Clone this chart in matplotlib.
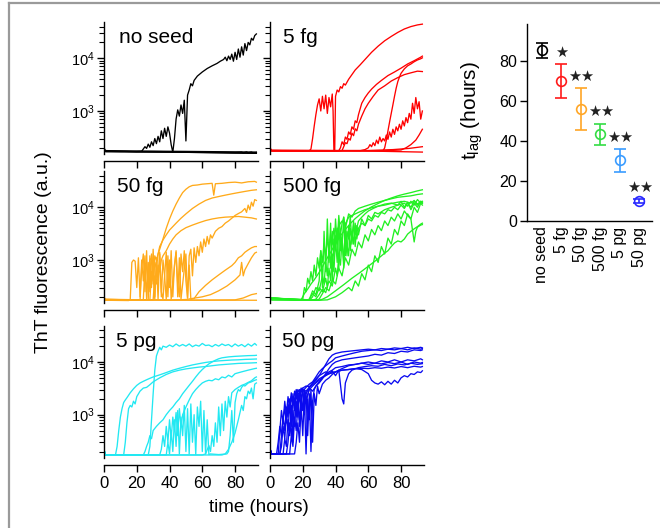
import matplotlib
matplotlib.use('Agg')
import matplotlib.pyplot as plt
from matplotlib.ticker import LogLocator, FixedLocator, FixedFormatter, NullFormatter
from matplotlib.lines import Line2D

plt.rcParams['font.family'] = ['Liberation Sans', 'DejaVu Sans']
plt.rcParams['mathtext.fontset'] = 'custom'
plt.rcParams['mathtext.rm'] = 'Liberation Sans'
plt.rcParams['mathtext.it'] = 'Liberation Sans:italic'

# ---------------- data: ThT traces, (time h, fluorescence a.u.) ----------------
NO_SEED = [
    [(0,180),(2,172),(10,170),(20,170),(23,172),(24,190),(25,210),(26,195),(27,235),(28,205),(29,260),(30,220),
     (31,300),(32,240),(33,330),(34,260),(35,420),(36,300),(37,470),(38,330),(39,500),(40,380),(41,230),(42,165),
     (43,300),(44,700),(45,1050),(46,800),(47,1300),(48,900),(49,1600),(50,270),(51,2000),(52,2500),(53,3300),
     (54,3000),(55,3800),(57,4600),(60,5500),(63,6400),(66,7200),(69,8000),(71,8800),(73,9500),(74,10500),
     (75,9000),(76,11000),(77,9500),(78,12000),(79,8800),(80,13000),(81,9500),(82,15000),(83,10500),(84,16500),
     (85,11500),(86,19000),(87,14000),(88,20000),(89,18000),(90,24000),(91,22000),(92,27000),(93,29000)],
    [(0,200),(1,172),(30,170),(60,166),(80,163),(84,166),(85,160),(87,167),(88,161),(90,166),(91,160),(93,163)],
    [(0,190),(1,168),(40,166),(93,158)],
    [(0,185),(1,175),(50,171),(93,166)],
    [(0,178),(20,168),(60,163),(93,157)],
]

FG5 = [
    [(0,190),(1,178),(10,176),(20,175),(24,176),(25,190),(26,300),(27,520),(28,850),(29,1300),(30,1700),(31,1000),
     (32,1900),(33,1100),(34,2000),(35,900),(36,1800),(37,1200),(38,2100),(38.5,1000),(39,180),(39.5,176),(40,1900),
     (41,2500),(42,2300),(43,2900),(44,2700),(45,3300),(46,3100),(48,4000),(50,4900),(52,6000),(55,7500),(58,9500),
     (62,13000),(66,17000),(70,21500),(74,26000),(78,31000),(82,36000),(86,40000),(90,43000),(93,44500)],
    [(0,185),(1,176),(40,175),(42,177),(43,200),(44,260),(45,230),(46,320),(47,290),(48,400),(49,360),(50,500),
     (51,450),(52,650),(53,600),(54,850),(56,1400),(58,1800),(60,2200),(62,2600),(65,3200),(68,3800),(72,4700),
     (76,5500),(80,6500),(84,7800),(88,9000),(92,10500),(93,11000)],
    [(0,185),(1,176),(42,175),(44,178),(45,210),(46,250),(47,240),(48,300),(49,280),(50,380),(51,340),(52,460),
     (53,420),(54,560),(56,800),(58,1100),(60,1400),(63,1900),(66,2500),(70,3000),(74,3700),(78,4300),(82,4900),
     (86,5300),(90,5700),(93,5600)],
    [(0,185),(1,176),(50,175),(69,176),(70,200),(71,280),(72,420),(73,620),(74,900),(75,1300),(76,1900),(77,2700),
     (78,3600),(79,4400),(80,5200),(82,6300),(84,7200),(86,7800),(88,8600),(90,9300),(92,9800),(93,10200)],
    [(0,185),(1,176),(55,176),(58,185),(60,200),(61,230),(62,210),(63,250),(64,220),(65,280),(66,240),(67,320),
     (68,260),(69,300),(70,270),(71,350),(72,290),(73,400),(74,320),(75,450),(76,360),(77,500),(78,420),(79,560),
     (80,450),(81,650),(82,520),(83,750),(84,600),(85,900),(86,700),(87,1400),(88,900),(89,1800),(90,1100),
     (91,1500),(92,700),(93,1000)],
    [(0,185),(1,176),(70,176),(80,182),(83,200),(86,230),(89,280),(91,350),(93,450)],
    [(0,200),(1,180),(50,176),(93,166)],
    [(0,185),(1,178),(60,178),(75,185),(85,195),(93,210)],
]

FG50 = [
    [(0,185),(1,175),(20,172),(24,174),(25,800),(26,900),(27,300),(28,1000),(29,1100),(30,350),(31,1200),(32,1000),
     (33,1300),(34,1600),(36,2500),(38,4000),(40,6000),(42,8500),(44,11500),(46,15000),(48,19000),(50,22000),
     (52,24500),(54,26000),(57,26500),(60,27500),(63,28000),(66,28500),(67,17000),(68,28000),(72,28500),
     (76,29500),(80,30000),(84,29000),(88,30500),(92,31000),(93,30000)],
    [(0,185),(1,175),(20,172),(28,175),(29,600),(30,400),(31,900),(32,700),(33,1300),(34,1800),(36,2400),(38,3000),
     (40,3700),(42,4300),(44,5000),(47,6200),(50,7500),(54,9500),(58,11500),(62,13500),(66,15000),(70,16000),
     (74,17000),(78,18000),(82,19000),(86,20000),(90,21000),(93,21500)],
    [(0,185),(1,175),(20,172),(30,174),(31,500),(32,350),(33,800),(34,600),(35,1000),(36,1200),(38,1500),(40,2000),
     (42,2500),(44,3000),(47,3600),(50,4100),(54,4600),(58,5100),(62,5600),(66,6000),(70,6300),(74,6500),
     (78,6600),(82,6700),(86,6500),(90,6300),(93,6000)],
    [(0,185),(1,172),(15,170),(16,175),(17,900),(18,1000),(19,950),(20,300),(21,1100),(22,200),(23,1000),(24,400),
     (25,1200),(26,180),(27,900),(28,250),(29,1300),(30,600),(31,180),(32,1100),(33,400),(34,1400),(35,200),
     (36,1000),(37,500),(38,180),(39,1200),(40,300),(41,1500),(42,200),(43,800),(44,1400),(45,350),(46,200),
     (47,1300),(48,600),(49,1500),(50,400),(51,190),(52,1200),(53,1600),(54,500),(55,1700),(56,900),(57,1800),
     (58,1200),(59,2200),(60,1400),(61,2500),(62,1800),(63,2800),(64,2000),(65,3000),(66,2600),(68,3500),
     (70,4000),(72,4300),(74,5000),(76,5500),(78,6200),(80,7000),(82,7600),(84,8200),(86,9500),(87,8000),
     (88,11000),(89,9000),(90,12500),(91,10500),(92,14000),(93,13500)],
    [(0,180),(22,172),(23,700),(24,1300),(25,250),(26,1500),(27,180),(28,1200),(29,300),(30,1600),(31,200),
     (32,900),(33,180),(34,1300),(35,250),(36,180),(38,1400),(39,200),(40,1000),(41,180),(44,1500),(45,200),
     (46,1100),(47,180),(50,1300),(51,190),(52,800),(53,180),(55,185),(58,250),(62,330),(66,420),(70,520),
     (74,640),(78,780),(80,900),(82,1100),(84,1200),(86,1400),(88,1550),(90,1700),(92,1800),(93,1800)],
    [(0,180),(40,172),(50,178),(60,200),(65,220),(70,260),(75,320),(80,420),(83,520),(84,900),(85,500),(86,650),
     (88,850),(90,1100),(92,1350),(93,1400)],
    [(0,185),(1,175),(60,172),(80,175),(85,190),(90,220),(93,230)],
    [(0,195),(1,176),(93,172)],
]

FG500 = [
    [(0,200),(1,175),(15,172),(19,175),(21,230),(23,280),(25,350),(27,420),(29,520),(31,650),(33,850),(35,1100),
     (37,1400),(39,1800),(41,2300),(43,2900),(46,3800),(49,4900),(52,6100),(55,7300),(58,8600),(62,10200),
     (66,11800),(70,13500),(74,15000),(78,16500),(82,17800),(86,19000),(90,20500),(93,21500)],
    [(0,200),(1,175),(30,172),(32,180),(35,200),(40,260),(45,340),(50,450),(55,580),(60,760),(65,1000),(70,1350),
     (72,1500),(74,1800),(76,2100),(78,2300),(80,2200),(82,2500),(84,3100),(86,3500),(88,3900),(90,4300),
     (92,4800),(93,5000)],
    [(0,190),(18,172),(20,180),(21,300),(22,250),(23,450),(24,350),(25,600),(26,400),(27,800),(28,500),(29,1100),
     (30,700),(31,1500),(32,900),(33,2000),(34,1200),(35,2600),(36,1500),(37,3200),(38,2000),(39,4000),(40,2500),
     (42,4500),(44,5500),(46,4800),(48,6500),(50,7000),(54,8000),(58,9000),(62,9800),(66,10500),(70,11000),
     (74,11800),(78,12500),(82,13000),(86,12000),(88,13500),(90,11500),(92,13000),(93,12500)],
    [(0,190),(20,172),(24,178),(26,260),(28,220),(30,400),(31,1500),(32,300),(33,3500),(34,600),(35,6000),(36,900),
     (37,5000),(38,400),(39,2500),(40,1500),(41,4000),(42,700),(43,3000),(44,1800),(45,6500),(46,1200),(47,3500),
     (48,2500),(49,7000),(50,2000),(51,4500),(52,3000),(54,5500),(56,6500),(58,7500),(60,8500),(63,9500),
     (66,10500),(70,11500),(74,12000),(78,11000),(80,13000),(82,10000),(84,12500),(86,9000),(88,12000),
     (90,10000),(92,13000),(93,12000)],
    [(0,190),(25,172),(28,180),(30,220),(32,280),(34,240),(36,400),(38,320),(40,700),(41,500),(42,1200),(43,800),
     (44,2500),(45,900),(46,3000),(47,1200),(48,4500),(49,1500),(50,3500),(51,2000),(52,5000),(53,2500),(54,4000),
     (56,5000),(58,4500),(60,6000),(62,5500),(64,7000),(66,6500),(68,8000),(70,7500),(72,9000),(74,8500),
     (76,10000),(78,9000),(80,11000),(82,9500),(84,12000),(86,10000),(88,13000),(90,11000),(92,12500),(93,12000)],
    [(0,190),(28,172),(30,180),(32,230),(34,300),(36,260),(38,420),(40,350),(42,700),(44,500),(46,1100),(48,800),
     (50,1600),(52,1200),(54,2200),(56,1700),(58,3000),(60,2300),(62,3800),(64,3000),(66,4500),(68,3600),
     (70,5500),(72,4500),(74,6500),(76,5500),(78,7500),(80,6000),(82,8500),(84,7000),(86,6000),(88,2200),
     (89,3500),(90,4200),(92,4600),(93,4700)],
    [(0,190),(30,172),(35,175),(40,200),(44,240),(48,300),(50,260),(52,400),(54,320),(56,550),(58,420),(60,800),
     (62,600),(64,1200),(66,900),(68,1800),(70,1300),(72,2600),(74,2000),(76,3800),(78,3000),(80,5500),(82,4500),
     (84,7500),(86,6000),(88,10000),(90,8000),(92,12000),(93,11000)],
    [(0,190),(24,172),(26,200),(28,300),(30,260),(32,500),(33,350),(34,900),(35,500),(36,1800),(37,700),(38,3500),
     (39,1200),(40,6000),(41,2000),(42,7000),(43,3000),(44,5000),(45,6500),(46,4000),(48,7500),(50,6500),
     (52,8500),(54,9500),(58,10500),(62,11500),(66,12500),(70,13500),(74,14500),(78,15500),(82,16000),
     (86,16500),(90,17500),(93,18000)],
    [(0,190),(22,172),(24,180),(26,230),(28,200),(30,300),(32,250),(34,450),(35,300),(36,700),(37,400),(38,1300),
     (39,600),(40,2500),(41,900),(42,4500),(43,1500),(44,3000),(45,700),(46,5000),(47,2000),(48,1200),(49,4000),
     (50,2500),(51,5500),(52,1800),(53,4500),(54,3000),(56,6000),(58,4500),(60,7000),(62,6000),(64,8000),
     (66,7500),(70,9000),(74,10000),(78,11000),(82,12000),(84,10500),(86,13000),(88,11000),(90,14000),
     (92,12000),(93,13000)],
]

PG5 = [
    [(0,210),(1,172),(27,172),(28,250),(29,800),(30,2500),(31,7000),(32,13000),(33,16000),(34,19000),(35,17000),
     (36,20000),(38,19000),(40,21000),(42,19500),(44,22000),(46,20000),(48,21500),(50,20000),(52,22000),
     (54,19500),(56,21000),(58,20000),(60,22500),(62,20500),(64,21000),(66,19500),(68,21500),(70,20000),
     (72,22000),(74,20500),(76,21500),(78,19500),(80,22000),(82,20000),(84,21500),(86,19500),(88,22000),
     (90,20000),(92,22500),(93,21000)],
    [(0,210),(1,172),(7,172),(8,250),(9,500),(10,900),(11,1300),(12,1700),(13,1900),(14,2100),(16,2600),(18,3100),
     (20,3600),(22,4000),(24,4300),(26,4600),(28,4900),(30,5200),(34,5700),(38,6300),(42,7000),(46,7600),
     (50,8200),(54,8800),(58,9300),(62,9800),(66,10200),(70,10500),(74,10700),(78,10900),(82,11000),(86,11200),
     (90,11300),(93,11400)],
    [(0,210),(1,172),(12,172),(13,300),(14,700),(15,1300),(16,1500),(17,1400),(18,1800),(19,1600),(20,2200),
     (22,2800),(24,3200),(26,3300),(28,3700),(30,4200),(34,5000),(38,5800),(42,6500),(46,7000),(50,7400),
     (54,7700),(58,8000),(62,8200),(66,8500),(70,8800),(74,9000),(78,9200),(82,9400),(86,9500),(90,9600),
     (93,9700)],
    [(0,210),(1,172),(24,172),(25,200),(26,250),(27,300),(28,400),(29,350),(30,500),(32,600),(34,700),(36,800),
     (38,1000),(40,1200),(42,1400),(44,1700),(46,2000),(48,2500),(50,3000),(52,3600),(54,4300),(56,5200),
     (58,6200),(60,7200),(62,8200),(64,9200),(66,10000),(68,10800),(70,11500),(72,12000),(76,12500),(80,12800),
     (84,13000),(88,13200),(92,13300),(93,13400)],
    [(0,210),(1,172),(34,172),(35,220),(36,400),(37,250),(38,600),(39,300),(40,800),(41,350),(42,900),(43,500),
     (44,1100),(45,400),(46,1300),(47,600),(48,1000),(50,1400),(52,1900),(54,2500),(56,3000),(58,3500),
     (60,4000),(62,4300),(64,4500),(66,4400),(68,4800),(70,4600),(72,5200),(74,5000),(76,5600),(78,5200),
     (80,6000),(84,6500),(88,7000),(92,7500),(93,7600)],
    [(0,210),(1,172),(38,172),(39,300),(40,180),(41,500),(42,200),(43,800),(44,250),(45,1200),(46,180),(47,900),
     (48,400),(49,1500),(50,200),(51,1300),(52,180),(53,1600),(54,300),(55,1000),(56,175),(57,1400),(58,600),
     (59,1800),(60,200),(61,1200),(62,180),(63,800),(64,175),(65,180),(70,175),(75,180),(76,200),(77,400),
     (78,1200),(79,300),(80,1700),(81,2500),(82,3000),(83,2800),(84,3300),(85,3600),(86,3500),(88,4000),
     (90,4200),(92,4500),(93,4600)],
    [(0,210),(1,172),(60,172),(62,180),(64,260),(65,200),(66,400),(67,250),(68,700),(69,300),(70,1400),(71,400),
     (72,1600),(73,500),(74,1800),(75,900),(76,2200),(77,1400),(78,2600),(80,3000),(82,3300),(84,3600),
     (86,3800),(88,4100),(90,4400),(92,5000),(93,5200)],
    [(0,210),(1,172),(72,172),(74,180),(76,220),(78,300),(80,450),(82,800),(84,1500),(85,1200),(86,2200),
     (87,2000),(88,2800),(89,2500),(90,3200),(91,2000),(92,3800),(93,4000)],
]

PG50 = [
    [(0,230),(1,178),(4,180),(5,300),(6,600),(7,400),(8,900),(9,1300),(10,700),(11,1600),(12,1100),(13,2200),
     (14,1500),(15,2800),(16,2000),(17,3000),(18,2600),(20,3200),(22,3500),(24,3400),(26,3900),(28,4500),
     (30,5500),(32,7000),(34,9000),(36,11500),(38,13500),(40,14500),(44,15500),(48,16000),(52,16500),
     (56,17000),(60,17500),(64,17000),(68,18000),(72,17500),(76,18500),(80,18000),(84,19000),(88,18000),
     (92,19000),(93,18500)],
    [(0,220),(1,178),(6,180),(7,400),(8,900),(9,500),(10,1400),(11,900),(12,2000),(13,600),(14,2500),(15,1300),
     (16,3000),(17,2000),(18,2500),(19,3200),(20,2800),(22,3300),(24,3800),(26,4200),(28,5200),(30,6500),
     (32,7500),(34,8500),(36,9500),(38,10500),(40,12000),(44,13000),(48,14000),(52,15000),(56,16000),
     (60,16500),(64,17000),(68,16500),(72,17500),(76,17000),(80,18000),(84,17000),(88,18500),(92,17500),
     (93,18000)],
    [(0,220),(1,178),(8,180),(9,350),(10,250),(11,800),(12,400),(13,1500),(14,300),(15,2000),(16,900),(17,2500),
     (18,600),(19,2000),(20,1200),(21,3000),(22,1800),(24,3200),(26,2800),(28,3500),(30,4200),(32,5000),
     (34,5800),(36,6500),(38,7000),(40,7800),(44,8200),(48,8800),(52,9000),(56,9500),(60,9000),(64,9500),
     (68,9200),(72,9800),(76,9300),(80,10000),(84,9000),(88,10000),(92,9500),(93,9800)],
    [(0,220),(1,178),(10,180),(11,300),(12,700),(13,400),(14,1200),(15,600),(16,1800),(17,900),(18,2500),
     (19,1300),(20,3000),(22,2500),(24,3300),(26,4000),(28,4800),(30,5500),(32,6000),(34,6500),(36,6000),
     (38,6800),(40,5500),(42,7000),(44,2000),(45,1600),(46,4000),(48,6000),(50,7000),(54,7800),(58,8200),
     (62,8500),(66,8300),(70,9000),(74,8500),(78,9200),(82,8800),(86,9500),(90,9000),(93,9300)],
    [(0,220),(1,178),(12,180),(13,400),(14,250),(15,900),(16,500),(17,1500),(18,800),(19,2200),(20,1200),
     (21,2800),(22,1800),(24,3000),(26,3500),(28,4000),(30,4500),(32,5000),(34,5500),(36,6000),(40,6500),
     (44,7000),(48,7200),(52,7500),(56,7200),(60,6000),(62,4500),(64,4000),(66,3800),(68,4200),(70,3700),
     (72,4300),(74,3800),(76,4500),(78,4000),(80,5000),(82,5500),(84,5200),(86,6000),(88,5800),(90,6500),
     (92,6300),(93,6800)],
    [(0,220),(1,178),(15,180),(16,300),(17,700),(18,300),(19,1500),(20,400),(21,2500),(22,180),(23,2000),
     (24,800),(25,3000),(26,300),(27,2500),(28,1500),(29,3500),(30,2500),(32,3800),(34,4500),(36,5000),
     (38,5800),(40,6500),(44,7500),(48,8500),(52,9000),(56,9500),(60,10000),(64,9500),(68,10500),(72,10000),
     (76,11000),(80,10000),(84,11000),(88,10500),(92,11500),(93,11000)],
    [(0,220),(1,178),(6,180),(7,250),(8,600),(9,350),(10,1000),(11,500),(12,1500),(13,800),(14,2200),(15,1200),
     (16,2800),(17,1500),(18,3000),(19,2000),(20,3200),(21,1000),(22,2800),(23,400),(24,2500),(25,200),
     (26,1800),(27,3000),(28,3500),(30,4000),(32,4800),(34,6000),(36,7500),(38,9000),(40,10000),(44,11000),
     (48,11500),(52,12000),(56,12500),(60,13000),(64,14000),(68,13500),(72,15000),(76,14500),(80,16000),
     (84,15500),(88,17000),(92,16500),(93,17000)],
    [(0,220),(1,178),(5,180),(6,500),(7,1200),(8,700),(9,1800),(10,1000),(11,2200),(12,1400),(13,2600),
     (14,1700),(15,2000),(16,2800),(18,2400),(20,3000),(22,2800),(24,3300),(26,3700),(28,4200),(30,4800),
     (32,5200),(34,5600),(36,6000),(40,6500),(44,7000),(48,7200),(52,7500),(56,7600),(60,7500),(64,7800),
     (68,7600),(72,8000),(76,7700),(80,8200),(84,7800),(88,8300),(92,8000),(93,8200)],
]

PANEL_LABELS = ['no seed', '5 fg', '50 fg', '500 fg', '5 pg', '50 pg']
PANEL_COLORS = ['#000000', '#ff0000', '#ffaa1a', '#22f022', '#22e8f2', '#0a0af0']
PANEL_DATA = [NO_SEED, FG5, FG50, FG500, PG5, PG50]

X_TICKS = [0, 20, 40, 60, 80]
Y_MAJOR = [1e3, 1e4]
Y_MAJOR_LABELS = ['$10^3$', '$10^4$']

# lag-time summary
TLAG_LABELS = ['no seed', '5 fg', '50 fg', '500 fg', '5 pg', '50 pg']
TLAG_MEAN = [85.3, 70.0, 56.0, 43.3, 30.3, 10.0]
TLAG_ERR = [3.7, 8.5, 10.5, 5.3, 5.7, 1.0]
TLAG_STARS = [0, 1, 2, 2, 2, 2]
TLAG_COLORS = ['#000000', '#ff1a1a', '#ffa626', '#33dd44', '#3a9cff', '#2a2aff']
TLAG_YTICKS = [0, 20, 40, 60, 80]

# ---------------- figure ----------------
W, H = 660, 528
fig = plt.figure(figsize=(W / 100, H / 100), dpi=100)

COL_LEFT = [104, 270]
ROW_TOP = [22.4, 171.4, 326.1]
AX_W, AX_H = 154, 132
LABEL_X = [0.10, 0.085, 0.085, 0.085, 0.075, 0.075]

for i, (lab, col, curves) in enumerate(zip(PANEL_LABELS, PANEL_COLORS, PANEL_DATA)):
    r, c = divmod(i, 2)
    left, top = COL_LEFT[c], ROW_TOP[r]
    ax = fig.add_axes([left / W, 1 - (top + AX_H) / H, AX_W / W, AX_H / H])
    for cur in curves:
        t = [p[0] for p in cur]
        v = [p[1] for p in cur]
        ax.plot(t, v, color=col, lw=0.95)
    ax.set_yscale('log')
    ax.set_ylim(150, 48000)
    ax.set_xlim(0, 94)
    for s in ('top', 'right'):
        ax.spines[s].set_visible(False)
    ax.spines['bottom'].set_position(('outward', 5))
    for s in ('left', 'bottom'):
        ax.spines[s].set_linewidth(1.0)
    ax.xaxis.set_major_locator(FixedLocator(X_TICKS))
    ax.yaxis.set_major_locator(FixedLocator(Y_MAJOR))
    ax.yaxis.set_minor_locator(LogLocator(base=10, subs=range(2, 10)))
    ax.yaxis.set_minor_formatter(NullFormatter())
    if c == 0:
        ax.yaxis.set_major_formatter(FixedFormatter(Y_MAJOR_LABELS))
    else:
        ax.yaxis.set_major_formatter(NullFormatter())
    if r != 2:
        ax.set_xticklabels([])
    ax.tick_params(axis='both', which='major', direction='out', length=5, width=1.0, pad=2)
    ax.tick_params(axis='y', which='minor', direction='out', length=3.5, width=0.8)
    ax.tick_params(axis='y', which='major', labelsize=10.5)
    ax.tick_params(axis='x', which='major', labelsize=12, pad=3)
    ax.text(LABEL_X[i], 0.955, lab, transform=ax.transAxes, fontsize=15, ha='left', va='top')

fig.text(44 / W, 1 - 252 / H, 'ThT fluorescence (a.u.)', rotation=90, ha='center', va='center', fontsize=14)
fig.text(259 / W, 1 - 508 / H, 'time (hours)', ha='center', va='center', fontsize=13.5)

# ---------------- lag-time panel ----------------
ax2 = fig.add_axes([527 / W, 1 - 221 / H, 125 / W, 197 / H])
xs = list(range(len(TLAG_LABELS)))
for x, m, e, col, ns in zip(xs, TLAG_MEAN, TLAG_ERR, TLAG_COLORS, TLAG_STARS):
    ax2.errorbar([x], [m], yerr=[e], fmt='o', ms=7, mfc='none', mec=col, mew=1.2,
                 ecolor=col, elinewidth=1.2, capsize=4.5, capthick=1.2)
    offs = [] if ns == 0 else ([0.0] if ns == 1 else [-0.3, 0.3])
    for dx in offs:
        ax2.text(x + dx, m + e + 6, '\u2605', ha='center', va='center', fontsize=10.5,
                 family='DejaVu Sans', color='#222222')
ax2.set_xlim(-0.77, 5.65)
ax2.set_ylim(0, 98.5)
ax2.set_yticks(TLAG_YTICKS)
ax2.set_xticks(xs)
ax2.set_xticklabels(TLAG_LABELS, rotation=90, va='top', ha='center')
for s in ('top', 'right'):
    ax2.spines[s].set_visible(False)
for s in ('left', 'bottom'):
    ax2.spines[s].set_linewidth(1.0)
ax2.tick_params(axis='y', direction='out', length=5, width=1.0, labelsize=11.5, pad=2)
ax2.tick_params(axis='x', length=0, labelsize=11.5, pad=4)
fig.text(472 / W, 1 - 111 / H, r'$\mathregular{t_{lag}}$ (hours)', rotation=90,
         ha='center', va='center', fontsize=15)

# ---------------- frame ----------------
fig.add_artist(Line2D([9 / W, 9 / W], [0, 1 - 3 / H], transform=fig.transFigure, color='#9a9a9a', lw=1.6))
fig.add_artist(Line2D([9 / W, 1], [1 - 3 / H, 1 - 3 / H], transform=fig.transFigure, color='#9a9a9a', lw=1.6))

fig.savefig('out.png', dpi=100)
